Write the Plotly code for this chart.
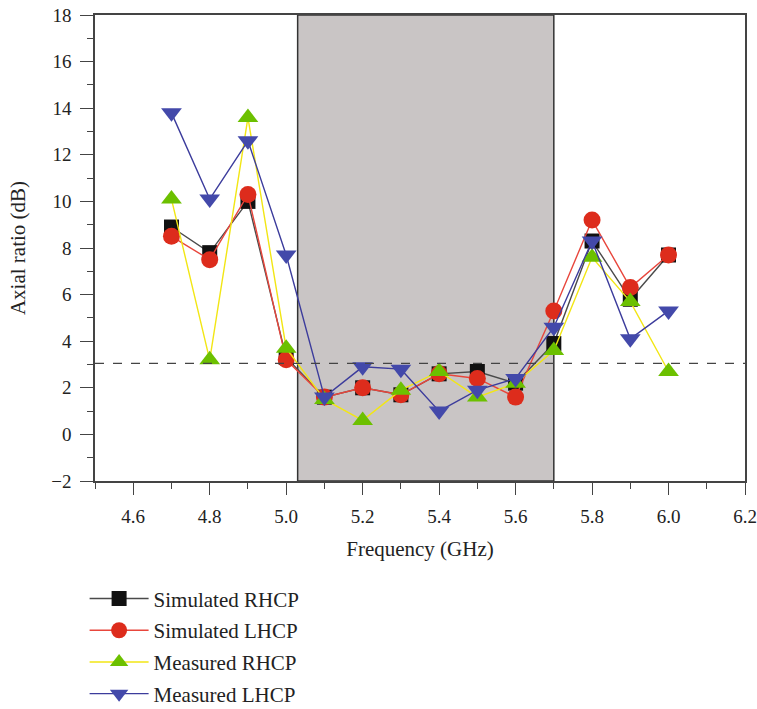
import plotly.graph_objects as go

freq = [4.7, 4.8, 4.9, 5.0, 5.1, 5.2, 5.3, 5.4, 5.5, 5.6, 5.7, 5.8, 5.9, 6.0]
sim_rhcp = [8.9, 7.8, 10.0, 3.3, 1.6, 2.0, 1.7, 2.6, 2.7, 2.2, 3.9, 8.3, 5.8, 7.7]
sim_lhcp = [8.5, 7.5, 10.3, 3.2, 1.6, 2.0, 1.7, 2.6, 2.4, 1.6, 5.3, 9.2, 6.3, 7.7]
meas_rhcp = [10.1, 3.2, 13.6, 3.7, 1.5, 0.6, 1.9, 2.7, 1.6, 2.2, 3.6, 7.6, 5.7, 2.7]
meas_lhcp = [13.8, 10.1, 12.6, 7.7, 1.6, 2.9, 2.8, 1.0, 1.9, 2.4, 4.6, 8.3, 4.1, 5.3]
band = [5.03, 5.70]
threshold = 3.05

FONT = "Liberation Serif"

fig = go.Figure()
series = [
    ("Simulated RHCP", sim_rhcp, "#4a4a4a", "square", "#111111", 15),
    ("Simulated LHCP", sim_lhcp, "#e8463c", "circle", "#dd2c1c", 17),
    ("Measured RHCP", meas_rhcp, "#f2e614", "triangle-up", "#6cc000", 18),
    ("Measured LHCP", meas_lhcp, "#3c3c9c", "triangle-down", "#4349aa", 18),
]
for i, (name, ys, lc, sym, mc, ms) in enumerate(series):
    fig.add_trace(go.Scatter(
        x=freq, y=ys, name=name, mode="lines+markers",
        line=dict(color=lc, width=1.4),
        marker=dict(symbol=sym, color=mc, size=ms, line=dict(width=0)),
        legendgroup=f"g{i}",
    ))

fig.add_shape(type="rect", x0=band[0], x1=band[1], y0=-2, y1=18,
              xref="x", yref="y", fillcolor="#c9c5c5",
              line=dict(color="#333333", width=1.5), layer="below")
fig.add_shape(type="line", x0=0, x1=1, xref="paper", y0=threshold, y1=threshold,
              yref="y", line=dict(color="#444444", width=1.3, dash="dash"))

axis_common = dict(
    showgrid=False, zeroline=False, showline=True, mirror=True, automargin=False,
    linecolor="#444444", linewidth=1.5, ticks="outside", tickcolor="#444444",
    tickwidth=1.3, tickfont=dict(family=FONT, size=19, color="#222222"),
)
fig.update_xaxes(
    range=[4.5, 6.2], tickvals=[4.6, 4.8, 5.0, 5.2, 5.4, 5.6, 5.8, 6.0, 6.2],
    ticktext=["4.6", "4.8", "5.0", "5.2", "5.4", "5.6", "5.8", "6.0", "6.2"],
    ticklen=12, ticklabelstandoff=5,
    minor=dict(ticks="outside", dtick=0.1, tick0=4.5, ticklen=6,
               tickcolor="#444444", tickwidth=1.3),
    title=dict(text="Frequency (GHz)", font=dict(family=FONT, size=21, color="#222222"),
               standoff=16),
    **axis_common)
fig.update_yaxes(
    range=[-2, 18], tickvals=list(range(-2, 19, 2)),
    ticktext=["\u22122"] + [str(v) for v in range(0, 19, 2)],
    ticklen=13, ticklabelstandoff=5,
    minor=dict(ticks="outside", dtick=1, tick0=-2, ticklen=6,
               tickcolor="#444444", tickwidth=1.3),
    title=dict(text="Axial ratio (dB)", font=dict(family=FONT, size=21, color="#222222"),
               standoff=20),
    **axis_common)

fig.update_layout(
    width=757, height=709,
    margin=dict(l=95, r=12, t=15, b=228, autoexpand=False),
    plot_bgcolor="white", paper_bgcolor="white",
    legend=dict(x=-0.016, xanchor="left", y=-0.209, yanchor="top",
                font=dict(family=FONT, size=21, color="#222222"),
                tracegroupgap=1.4, itemwidth=59, bgcolor="rgba(0,0,0,0)"),
    showlegend=True,
)
fig.write_html("out.html", config={"displayModeBar": False},
               post_script="document.body.style.margin='0';document.body.style.overflow='hidden';")
